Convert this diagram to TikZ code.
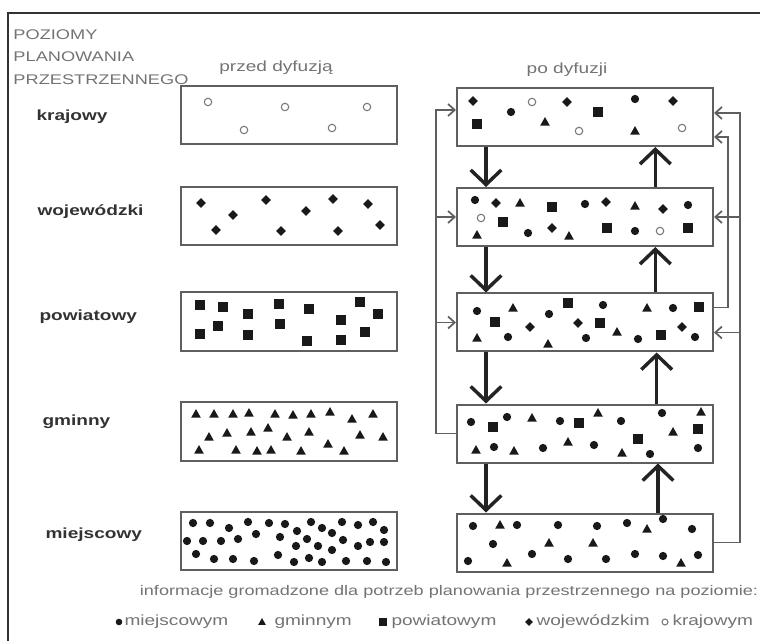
\documentclass[tikz,border=0pt]{standalone}
\usepackage{fontspec}
\setmainfont{Liberation Sans}[FakeStretch=1.3]
\usetikzlibrary{arrows.meta,calc}

\definecolor{boxgray}{RGB}{95,95,95}
\definecolor{txtgray}{RGB}{115,115,115}
\definecolor{lblgray}{RGB}{50,50,50}
\definecolor{markblack}{RGB}{25,25,25}
\definecolor{ringgray}{RGB}{120,120,120}
\definecolor{arrowdark}{RGB}{35,35,35}

\tikzset{every picture/.style={line width=0.75pt}}
\tikzset{
  lvlbox/.style={draw=boxgray, line width=1.5pt, minimum width=162pt, minimum height=44pt, inner sep=0pt},
  diffbox/.style={draw=boxgray, line width=1.5pt, minimum width=192pt, minimum height=43.5pt, inner sep=0pt},
  lvltxt/.style={text=lblgray, font=\fontsize{11}{13}\selectfont\bfseries, inner sep=0pt, anchor=west},
  coltxt/.style={text=txtgray, font=\fontsize{11}{13}\selectfont, inner sep=0pt},
  feed/.style={draw=boxgray, line width=1.3pt, -{Straight Barb[length=5pt,width=9pt]}},
  bigarrow/.style={draw=arrowdark, line width=2.6pt, -{Straight Barb[length=11pt,width=23pt]}},
  mdot/.pic={\fill[markblack] (0,0) circle (3.1pt);},
  msq/.pic={\fill[markblack] (-3.4pt,-3.4pt) rectangle (3.4pt,3.4pt);},
  mtri/.pic={\fill[markblack] (-3.6pt,-2.7pt) -- (3.6pt,-2.7pt) -- (0pt,3.7pt) -- cycle;},
  mdia/.pic={\fill[markblack] (0pt,-3.7pt) -- (3.7pt,0pt) -- (0pt,3.7pt) -- (-3.7pt,0pt) -- cycle;},
  mring/.pic={\draw[ringgray, line width=0.8pt, fill=white] (0,0) circle (2.8pt);},
}

\begin{document}
\begin{tikzpicture}[x=0.75pt,y=0.75pt,yscale=-1,xscale=1]
\useasboundingbox (0,0) rectangle (760,641);

%Shape: Frame
\draw[line width=2.2pt, lblgray] (8,641) -- (8,13) -- (760,13);

% Text Node
\node[coltxt, anchor=north west, align=left, font=\fontsize{10.5}{17}\selectfont] (title) at (13,29) {POZIOMY\\PLANOWANIA\\PRZESTRZENNEGO};
% Text Node
\node[coltxt] (hprzed) at (276,68) {przed dyfuzją};
% Text Node
\node[coltxt] (hpo) at (567,70) {po dyfuzji};

% Level names
\node[lvltxt] (tkraj) at (36,117) {krajowy};
\node[lvltxt] (twoj) at (37,212) {wojewódzki};
\node[lvltxt] (tpow) at (39,317) {powiatowy};
\node[lvltxt] (tgmi) at (42,422) {gminny};
\node[lvltxt] (tmie) at (45,535) {miejscowy};

%Shape: Rectangle (przed dyfuzją)
\node[lvlbox] (L1) at (289,115) {};
\node[lvlbox] (L2) at (289,216) {};
\node[lvlbox] (L3) at (289,321.5) {};
\node[lvlbox] (L4) at (289,431.5) {};
\node[lvlbox] (L5) at (289,541) {};

%Shape: Rectangle (po dyfuzji)
\node[diffbox] (R1) at (585,117) {};
\node[diffbox] (R2) at (585,217) {};
\node[diffbox] (R3) at (585,322.5) {};
\node[diffbox] (R4) at (585,433.5) {};
\node[diffbox] (R5) at (585,542.5) {};

% Markers, przed dyfuzją
\foreach \p in {(208,102),(244,130),(285,107),(332,128),(367,107)}
  \pic at \p {mring};
\foreach \p in {(201,203),(216,230),(233,215),(266,200),(281,231),(306,211),(333,199),(338,231),(368,204),(380,225)}
  \pic at \p {mdia};
\foreach \p in {(200,305),(223,307),(248,314),(279,304),(309,309),(360,302),(378,314),(200,334),(218,326),(248,335),(280,324),(341,320),(365,332),(307,341),(341,340)}
  \pic at \p {msq};
\foreach \p in {(196,414),(214,414),(233,414),(249,413),(275,414),(293,415),(311,414),(330,412),(352,419),(373,414),(209,437),(227,433),(251,432),(268,428),(287,437),(309,432),(360,435),(383,437),(199,450),(236,450),(257,451),(271,450),(301,451),(328,444),(344,451)}
  \pic at \p {mtri};
\foreach \p in {(193,523),(210,523),(229,528),(248,522),(269,523),(285,524),(297,531),(311,522),(322,528),(332,533),(342,522),(358,525),(373,522),(384,530),
  (187,541),(203,541),(221,541),(238,539),(256,534),(280,537),(296,546),(307,539),(318,546),(332,550),(343,540),(358,546),(370,542),(384,542),
  (196,554),(214,559),(233,559),(254,561),(278,555),(294,562),(309,558),(322,562),(346,561),(367,561),(386,562)}
  \pic at \p {mdot};

% Markers, po dyfuzji
\foreach \p in {(511,112),(635,99),(475,200),(585,204),(688,205),(528,233),(635,231),
  (477,311),(549,314),(603,305),(673,308),(508,337),(586,338),(638,339),(695,337),
  (471,422),(507,417),(560,421),(621,421),(662,413),(494,447),(543,448),(594,445),(650,454),(698,448),
  (473,526),(517,525),(558,525),(597,526),(627,523),(663,519),(692,529),(493,544),(532,554),(468,561),(568,559),(606,559),(635,554),(663,556),(698,555)}
  \pic at \p {mdot};
\foreach \p in {(545,122),(635,131),(520,203),(635,206),(477,235),(569,236),
  (513,308),(647,308),(617,332),(477,338),(548,344),
  (532,418),(598,413),(701,412),(673,432),(476,450),(514,451),(622,453),(568,442),
  (500,525),(647,529),(549,543),(593,543),(507,563),(681,563)}
  \pic at \p {mtri};
\foreach \p in {(477,124),(598,112),(552,207),(503,222),(607,228),(688,228),
  (568,303),(699,307),(495,322),(600,323),(661,335),
  (493,427),(579,423),(698,429),(638,439)}
  \pic at \p {msq};
\foreach \p in {(473,101),(567,102),(673,101),(496,203),(606,202),(663,209),(552,228),
  (530,327),(578,323),(682,327)}
  \pic at \p {mdia};
\foreach \p in {(532,102),(579,131),(682,128),(481,218),(660,231)}
  \pic at \p {mring};

%Straight Lines, down
\draw[bigarrow] ([xshift=22.5pt]R1.south west) -- ([xshift=22.5pt]R2.north west);
\draw[bigarrow] ([xshift=22.5pt]R2.south west) -- ([xshift=22.5pt]R3.north west);
\draw[bigarrow] ([xshift=22.5pt]R3.south west) -- ([xshift=22.5pt]R4.north west);
\draw[bigarrow] ([xshift=22.5pt]R4.south west) -- ([xshift=22.5pt]R5.north west);
%Straight Lines, up
\draw[bigarrow] ([xshift=-44pt]R2.north east) -- ([xshift=-44pt]R1.south east);
\draw[bigarrow] ([xshift=-44pt]R3.north east) -- ([xshift=-44pt]R2.south east);
\draw[bigarrow] ([xshift=-43pt]R4.north east) -- ([xshift=-43pt]R3.south east);
\draw[bigarrow] ([xshift=-42pt]R5.north east) -- ([xshift=-42pt]R4.south east);

%Connectors, left
\draw[feed] (R4.west) -- ++(-20,0) coordinate (lbus) |- ($(R1.west)+(0,-7)$);
\draw[feed] (lbus |- R2.west) -- (R2.west);
\draw[feed] (lbus |- R3.west) -- (R3.west);
%Connectors, right
\draw[feed] (R5.east) -- ++(26,0) coordinate (rbus) |- ($(R1.east)+(0,-4)$);
\draw[feed] (rbus |- R2.east) -- (R2.east);
\coordinate (r3in) at ($(R3.east)+(0,10)$);
\draw[feed] (rbus |- r3in) -- (r3in);
\draw[feed] ($(R3.east)+(0,-15)$) -- ++(14,0) |- ($(R1.east)+(0,20)$);

% Legend
\node[coltxt, font=\fontsize{10.45}{12}\selectfont] (lghead) at (449,592) {informacje gromadzone dla potrzeb planowania przestrzennego na poziomie:};
\pic[scale=0.8] at (119,622) {mdot};
\node[coltxt, anchor=west] (lgmie) at (124,622) {miejscowym};
\pic[scale=0.8] at (262,622) {mtri};
\node[coltxt, anchor=west] (lggmi) at (274,622) {gminnym};
\pic[scale=0.8] at (383,622) {msq};
\node[coltxt, anchor=west] (lgpow) at (391,622) {powiatowym};
\pic[scale=0.8] at (529,622) {mdia};
\node[coltxt, anchor=west] (lgwoj) at (536,622) {wojewódzkim};
\pic[scale=0.8] at (665,622) {mring};
\node[coltxt, anchor=west] (lgkra) at (672,622) {krajowym};

\end{tikzpicture}
\end{document}
